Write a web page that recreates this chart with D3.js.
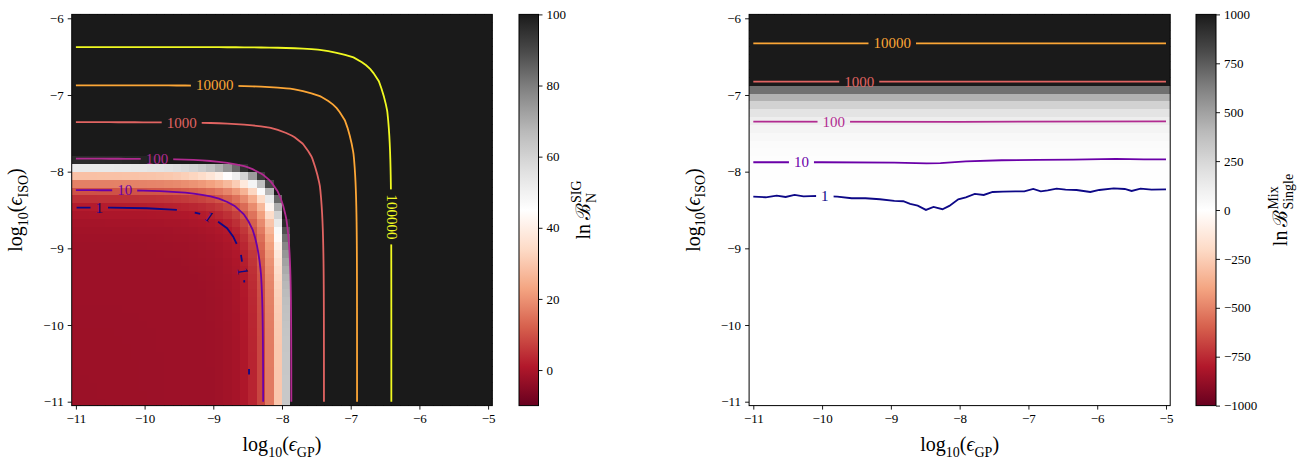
<!DOCTYPE html>
<html>
<head>
<meta charset="utf-8">
<script src="https://cdn.jsdelivr.net/npm/d3@7"></script>
<style>
body { margin: 0; background: #fff; }
text { font-family: "Liberation Serif", "DejaVu Serif", serif; fill: #000; }
</style>
</head>
<body>
<svg id="fig" width="1306" height="459"></svg>
<script>
// ---- data ----
const gpTicks = [-11, -10, -9, -8, -7, -6, -5]
const isoTicks = [-11, -10, -9, -8, -7, -6]
const sigBarTicks = [0, 20, 40, 60, 80, 100]
const mixBarTicks = [-1000, -750, -500, -250, 0, 250, 500, 750, 1000]

const nGrid = 50
const gpRange = [-11, -5]
const isoRange = [-11, -6]

// ln B^SIG_N along the lower edge (eps_ISO small), log10(eps) -> value
const sigProfileEps = [-11.1, -9.0, -8.7, -8.5, -8.27, -8.06, -7.86, -7.38, -6.9, -6.4, -4.6]
const sigProfileVal = [-2.4, -2.0, -1.0, 1, 10, 30, 100, 1000, 1e4, 1e5, 4e8]
// the ISO direction sits slightly higher than the GP direction
const isoOffset = 0.03
const sigLevels = [10, 100, 1000, 10000, 100000]

// the level-1 contour of the left panel is broken up by noise
const sigOnePieces = [
  [[-10.99, -8.469], [-10.5, -8.47], [-9.97, -8.477], [-9.53, -8.499]],
  [[-9.27, -8.535], [-9.19, -8.552]],
  [[-8.93, -8.652], [-8.8, -8.738], [-8.71, -8.847], [-8.66, -8.943]],
  [[-8.597, -9.086], [-8.582, -9.173]],
  [[-8.55, -9.415], [-8.55, -9.445]],
  [[-8.48, -10.575], [-8.48, -10.645]]
]
const sigLabels = [
  {text: '10000', level: 10000, gp: -8.98, iso: -6.87, rot: 0},
  {text: '1000', level: 1000, gp: -9.46, iso: -7.36, rot: 0},
  {text: '100', level: 100, gp: -9.82, iso: -7.84, rot: 0},
  {text: '10', level: 10, gp: -10.29, iso: -8.245, rot: 0},
  {text: '100000', level: 100000, gp: -6.40, iso: -8.59, rot: 90},
  {text: '1', level: 1, gp: -10.66, iso: -8.47, rot: 0},
  {text: '1', level: 1, gp: -9.06, iso: -8.59, rot: 35},
  {text: '1', level: 1, gp: -8.57, iso: -9.30, rot: 82}
]

// ln B^Mix_Single, depends on eps_ISO only
const mixProfileIso = [-11.1, -9.0, -8.3, -7.87, -7.35, -6.83, -6.33, -5.9]
const mixProfileVal = [0.02, 0.15, 1, 10, 100, 1000, 1e4, 7e4]

const mixLine1 = [[-11.0, -8.326], [-10.82, -8.334], [-10.66, -8.313], [-10.53, -8.33], [-10.4, -8.304],
  [-10.27, -8.321], [-10.07, -8.317], [-9.78, -8.326], [-9.57, -8.347], [-9.37, -8.347], [-9.16, -8.36],
  [-8.95, -8.382], [-8.82, -8.386], [-8.72, -8.421], [-8.61, -8.443], [-8.49, -8.499], [-8.38, -8.46],
  [-8.25, -8.49], [-8.15, -8.447], [-8.02, -8.36], [-7.91, -8.334], [-7.78, -8.291], [-7.65, -8.304],
  [-7.52, -8.265], [-7.37, -8.261], [-7.19, -8.256], [-7.06, -8.256], [-6.93, -8.226], [-6.82, -8.256],
  [-6.72, -8.243], [-6.59, -8.222], [-6.46, -8.235], [-6.3, -8.239], [-6.1, -8.265], [-5.97, -8.239],
  [-5.76, -8.217], [-5.6, -8.226], [-5.5, -8.252], [-5.37, -8.222], [-5.21, -8.235], [-5.0, -8.23]]
const mixLine10 = [[-11.0, -7.877], [-10.0, -7.877], [-8.95, -7.882], [-8.48, -7.891], [-8.28, -7.889],
  [-7.91, -7.865], [-7.39, -7.851], [-6.87, -7.847], [-6.35, -7.843], [-5.73, -7.834], [-5.32, -7.84], [-5.0, -7.84]]
const mixLine100 = [[-11.0, -7.348], [-8.0, -7.35], [-5.0, -7.345]]
const mixLine1000 = [[-11.0, -6.826], [-5.0, -6.826]]
const mixLine10000 = [[-11.0, -6.326], [-5.0, -6.326]]
const mixLines = [
  {level: 1, pts: mixLine1, labelGp: -9.96},
  {level: 10, pts: mixLine10, labelGp: -10.30},
  {level: 100, pts: mixLine100, labelGp: -9.83},
  {level: 1000, pts: mixLine1000, labelGp: -9.46},
  {level: 10000, pts: mixLine10000, labelGp: -8.98}
]

// ---- set up ----
const W = 1306, H = 459
const svg = d3.select('#fig')
const defs = svg.append('defs')

// RdGy with straight segments between the brewer colours (white at the middle)
const rdgy = d3.piecewise(d3.interpolateRgb, d3.schemeRdGy[11])
const sigColor = d3.scaleSequential(rdgy).domain([-10, 100]).clamp(true)
const mixColor = d3.scaleSequential(rdgy).domain([-1000, 1000]).clamp(true)
const levelColor = l => d3.interpolatePlasma(Math.log10(l) / 5)
const tickFmt = d3.format('d')

const stepGP = (gpRange[1] - gpRange[0]) / (nGrid - 1)
const stepISO = (isoRange[1] - isoRange[0]) / (nGrid - 1)
const gpExtent = [gpRange[0] - stepGP / 2, gpRange[1] + stepGP / 2]
const isoExtent = [isoRange[0] - stepISO / 2, isoRange[1] + stepISO / 2]
const gpCenters = d3.range(nGrid).map(i => gpRange[0] + i * stepGP)
const isoCenters = d3.range(nGrid).map(j => isoRange[0] + j * stepISO)

const sigT = d3.scaleLinear().domain(sigProfileEps).range(sigProfileVal.map(v => Math.log10(v + 3)))
const sigAt = (gp, iso) => 10 ** sigT(Math.log10(10 ** gp + 10 ** (iso - isoOffset))) - 3
const sigGrid = []
isoCenters.forEach(iso => gpCenters.forEach(gp => sigGrid.push(sigAt(gp, iso))))

const mixT = d3.scaleLinear().domain(mixProfileIso).range(mixProfileVal.map(v => Math.log10(v)))
const mixGrid = []
isoCenters.forEach(iso => gpCenters.forEach(() => mixGrid.push(10 ** mixT(iso))))

// rich text (sub/superscripts) centred on 0,0 of g
function mathText(g, pieces, size) {
  let inner = g.append('g')
  let x = 0, prevStart = 0
  pieces.forEach(p => {
    let start = p.stack ? prevStart : x
    let t = inner.append('text')
      .attr('x', start)
      .attr('y', (p.shift || 0) * size)
      .attr('font-size', size * (p.scale || 1))
      .attr('font-style', p.italic ? 'italic' : null)
      .text(p.t)
    let w = t.node().getComputedTextLength()
    if (!p.stack) prevStart = start
    x = Math.max(x, start + w)
  })
  inner.attr('transform', `translate(${-x / 2},0)`)
}

const epsLabel = sub => [
  {t: 'log'}, {t: '10', scale: 0.7, shift: 0.28}, {t: '('}, {t: '\u03f5', italic: true},
  {t: sub, scale: 0.7, shift: 0.28}, {t: ')'}
]

function drawPanel(o) {
  let x = d3.scaleLinear().domain(gpExtent).range([o.x0, o.x1])
  let y = d3.scaleLinear().domain(isoExtent).range([o.y1, o.y0])
  let g = svg.append('g')

  defs.append('clipPath').attr('id', 'clip-' + o.id)
    .append('rect').attr('x', o.x0).attr('y', o.y0)
    .attr('width', o.x1 - o.x0).attr('height', o.y1 - o.y0)

  // heatmap cells
  let cells = []
  isoCenters.forEach((iso, j) => gpCenters.forEach((gp, i) => cells.push({gp, iso, v: o.grid[j * nGrid + i]})))
  g.append('g')
    .attr('clip-path', `url(#clip-${o.id})`)
    .attr('shape-rendering', 'crispEdges')
    .selectAll('rect')
    .data(cells)
    .enter()
    .append('rect')
    .attr('x', d => x(d.gp - stepGP / 2))
    .attr('y', d => y(d.iso + stepISO / 2))
    .attr('width', x(stepGP) - x(0) + 1)
    .attr('height', y(0) - y(stepISO) + 1)
    .attr('fill', d => o.color(d.v))

  // axes
  let ax = g.append('g')
    .attr('transform', `translate(0,${o.y1})`)
    .call(d3.axisBottom(x).tickValues(gpTicks).tickFormat(tickFmt).tickSize(4).tickPadding(4))
  let ay = g.append('g')
    .attr('transform', `translate(${o.x0},0)`)
    .call(d3.axisLeft(y).tickValues(isoTicks).tickFormat(tickFmt).tickSize(4).tickPadding(4))
  ;[ax, ay].forEach(a => {
    a.attr('font-size', 13)
    a.select('.domain').remove()
    a.selectAll('line').attr('stroke', '#000').attr('stroke-width', 0.9)
  })

  g.append('rect')
    .attr('x', o.x0).attr('y', o.y0)
    .attr('width', o.x1 - o.x0).attr('height', o.y1 - o.y0)
    .attr('fill', 'none').attr('stroke', '#000').attr('stroke-width', 1)

  // axis labels
  mathText(svg.append('g').attr('transform', `translate(${(o.x0 + o.x1) / 2},451)`), epsLabel('GP'), 20)
  mathText(svg.append('g').attr('transform', `translate(${o.x0 - 49.5},${(o.y0 + o.y1) / 2}) rotate(-90)`), epsLabel('ISO'), 20)

  // colour bar
  let cb = d3.scaleLinear().domain(o.barDomain).range([o.y1, o.y0])
  let grad = defs.append('linearGradient').attr('id', 'grad-' + o.id)
    .attr('x1', 0).attr('y1', 1).attr('x2', 0).attr('y2', 0)
  d3.range(41).forEach(k => {
    grad.append('stop').attr('offset', k / 40)
      .attr('stop-color', o.color(o.barDomain[0] + k / 40 * (o.barDomain[1] - o.barDomain[0])))
  })
  g.append('rect')
    .attr('x', o.bx0).attr('y', o.y0)
    .attr('width', o.bx1 - o.bx0).attr('height', o.y1 - o.y0)
    .attr('fill', `url(#grad-${o.id})`)
    .attr('stroke', '#000').attr('stroke-width', 1)
  let ac = g.append('g')
    .attr('transform', `translate(${o.bx1},0)`)
    .call(d3.axisRight(cb).tickValues(o.barTicks).tickFormat(tickFmt).tickSize(4).tickPadding(4))
  ac.attr('font-size', 13)
  ac.select('.domain').remove()
  ac.selectAll('line').attr('stroke', '#000').attr('stroke-width', 0.9)

  mathText(svg.append('g').attr('transform', `translate(${o.labelX},${(o.y0 + o.y1) / 2}) rotate(-90)`), o.barLabel, 20)

  // contour layer, masked where labels sit
  let mask = defs.append('mask').attr('id', 'mask-' + o.id)
    .attr('maskUnits', 'userSpaceOnUse')
    .attr('x', 0).attr('y', 0).attr('width', W).attr('height', H)
  mask.append('rect').attr('width', W).attr('height', H).attr('fill', '#fff')
  let lines = svg.append('g').attr('clip-path', `url(#clip-${o.id})`)
    .append('g').attr('mask', `url(#mask-${o.id})`)
  let labels = svg.append('g')
  return {x, y, lines, labels, mask}
}

function addLabel(p, text, level, gp, iso, rot) {
  let px = p.x(gp), py = p.y(iso)
  let t = p.labels.append('text')
    .attr('transform', `translate(${px},${py}) rotate(${rot})`)
    .attr('text-anchor', 'middle')
    .attr('dominant-baseline', 'central')
    .attr('font-size', 15)
    .style('fill', levelColor(level))
    .text(text)
  let w = t.node().getComputedTextLength() + 10
  p.mask.append('rect')
    .attr('x', -w / 2).attr('y', -7).attr('width', w).attr('height', 14)
    .attr('transform', `translate(${px},${py}) rotate(${rot})`)
    .attr('fill', '#000')
}

const sig = drawPanel({
  id: 'sig', x0: 71.7, x1: 492.3, y0: 14.4, y1: 405.6, bx0: 519, bx1: 538.5,
  grid: sigGrid, color: sigColor, barDomain: [-10, 100], barTicks: sigBarTicks, labelX: 590,
  barLabel: [{t: 'ln\u2009'}, {t: '\u212c'}, {t: 'SIG', scale: 0.7, shift: -0.45}, {t: 'N', scale: 0.7, shift: 0.3, stack: true}]
})
const mix = drawPanel({
  id: 'mix', x0: 749.1, x1: 1170.2, y0: 14.4, y1: 405.6, bx0: 1196, bx1: 1216,
  grid: mixGrid, color: mixColor, barDomain: [-1000, 1000], barTicks: mixBarTicks, labelX: 1287,
  barLabel: [{t: 'ln\u2009'}, {t: '\u212c'}, {t: 'Mix', scale: 0.7, shift: -0.45}, {t: 'Single', scale: 0.7, shift: 0.3, stack: true}]
})

// ---- left contours from the grid ----
const gridX = d3.scaleLinear().domain([0, nGrid]).range(gpExtent)
const gridY = d3.scaleLinear().domain([0, nGrid]).range(isoExtent)
function ringRuns(ring) {
  let onEdge = p => p[0] <= 1e-9 || p[0] >= nGrid - 1e-9 || p[1] <= 1e-9 || p[1] >= nGrid - 1e-9
  let pts = ring.slice(0, -1)
  let k = pts.findIndex(onEdge)
  if (k < 0) return [ring]
  let rot = pts.slice(k).concat(pts.slice(0, k))
  let runs = [], cur = []
  rot.forEach(pt => {
    if (onEdge(pt)) { if (cur.length > 1) runs.push(cur); cur = [] } else cur.push(pt)
  })
  if (cur.length > 1) runs.push(cur)
  return runs
}
const sigContours = d3.contours().size([nGrid, nGrid]).thresholds(sigLevels)(sigGrid)
const gridLine = d3.line().x(d => sig.x(gridX(d[0]))).y(d => sig.y(gridY(d[1])))
sigContours.forEach(c => {
  c.coordinates.forEach(poly => poly.forEach(ring => {
    ringRuns(ring).forEach(run => {
      sig.lines.append('path')
        .attr('d', gridLine(run))
        .attr('fill', 'none')
        .attr('stroke', levelColor(c.value))
        .attr('stroke-width', 1.8)
    })
  }))
})
const dataLineSig = d3.line().x(d => sig.x(d[0])).y(d => sig.y(d[1]))
sigOnePieces.forEach(piece => {
  sig.lines.append('path')
    .attr('d', dataLineSig(piece))
    .attr('fill', 'none')
    .attr('stroke', levelColor(1))
    .attr('stroke-width', 1.8)
})
sigLabels.forEach(l => addLabel(sig, l.text, l.level, l.gp, l.iso, l.rot))

// ---- right contours ----
const dataLineMix = d3.line().x(d => mix.x(d[0])).y(d => mix.y(d[1]))
mixLines.forEach(l => {
  mix.lines.append('path')
    .attr('d', dataLineMix(l.pts))
    .attr('fill', 'none')
    .attr('stroke', levelColor(l.level))
    .attr('stroke-width', 1.8)
  let along = d3.scaleLinear().domain(l.pts.map(d => d[0])).range(l.pts.map(d => d[1]))
  addLabel(mix, String(l.level), l.level, l.labelGp, along(l.labelGp), 0)
})
</script>
</body>
</html>
